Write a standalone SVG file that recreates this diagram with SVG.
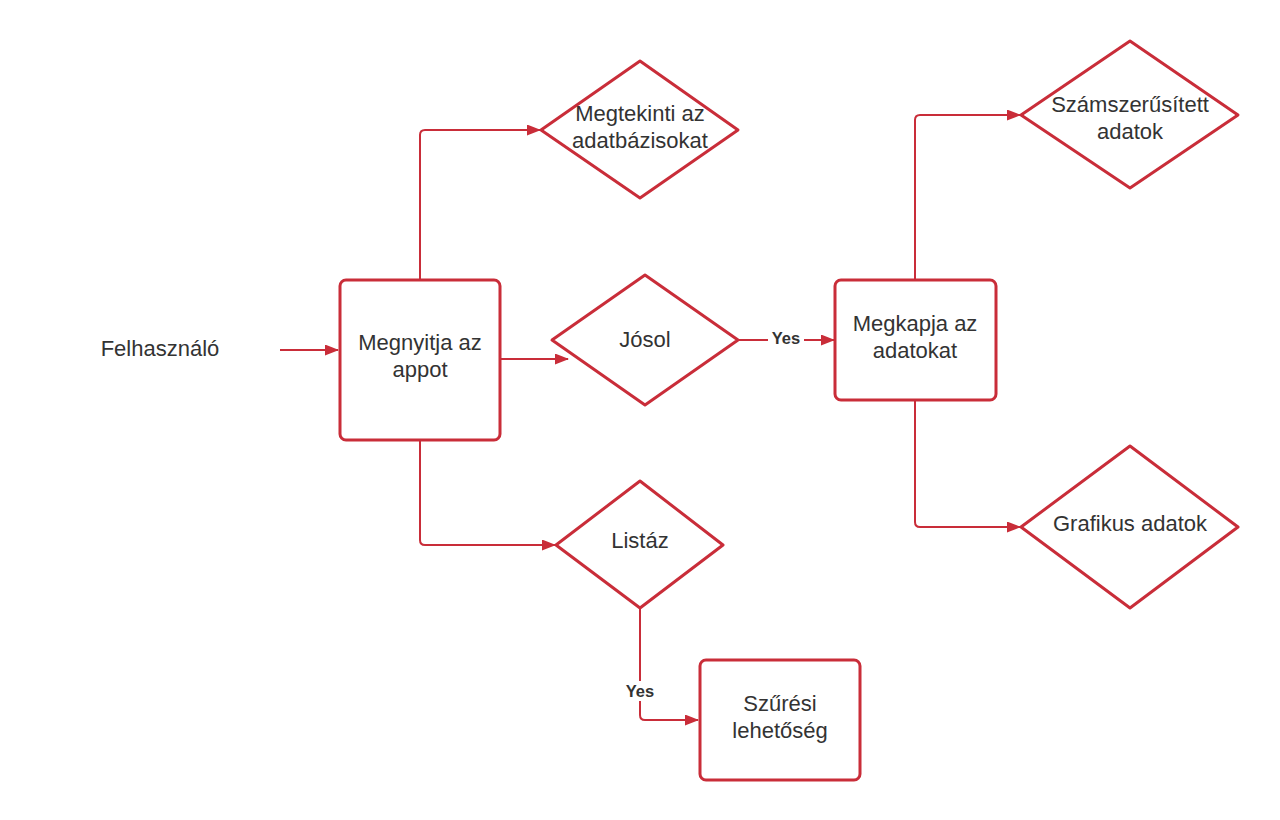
<svg xmlns="http://www.w3.org/2000/svg" width="1280" height="820" viewBox="0 0 1280 820">
  <defs>
    <marker id="arrow" viewBox="0 0 14 11" refX="13" refY="5.5" markerWidth="14" markerHeight="11" markerUnits="userSpaceOnUse" orient="auto">
      <path d="M0,0 L14,5.5 L0,11 Z" fill="#c92d39"/>
    </marker>
    <style>
      .shape { fill: #ffffff; stroke: #c92d39; stroke-width: 3; stroke-linejoin: round; }
      .edge { fill: none; stroke: #c92d39; stroke-width: 2; marker-end: url(#arrow); }
      .label { font-family: "Liberation Sans", Arial, sans-serif; font-size: 22px; fill: #333333; text-anchor: middle; }
      .edge-label { font-family: "Liberation Sans", Arial, sans-serif; font-size: 16.5px; font-weight: bold; fill: #333333; text-anchor: middle; }
    </style>
  </defs>
  <rect width="1280" height="820" fill="#ffffff"/>

  <g id="connectors">
    <path class="edge" d="M280,350 H338"/>
    <path class="edge" d="M420,280 V135 Q420,130 425,130 H540"/>
    <path class="edge" d="M501,359 H568"/>
    <path class="edge" d="M738,340 H834"/>
    <path class="edge" d="M420,440 V540 Q420,545 425,545 H555"/>
    <path class="edge" d="M915,280 V120 Q915,115 920,115 H1020"/>
    <path class="edge" d="M915,400 V522 Q915,527 920,527 H1020"/>
    <path class="edge" d="M640,608 V715 Q640,720 645,720 H698"/>
    <rect x="768" y="328" width="36" height="20" fill="#ffffff"/>
    <text class="edge-label" x="786" y="344">Yes</text>
    <rect x="621" y="681" width="38" height="20" fill="#ffffff"/>
    <text class="edge-label" x="640" y="697">Yes</text>
  </g>

  <g id="user">
    <text class="label" x="160" y="356">Felhasználó</text>
  </g>

  <g id="open-app">
    <rect class="shape" x="340" y="280" width="160" height="160" rx="6"/>
    <text class="label" x="420" y="350">Megnyitja az</text>
    <text class="label" x="420" y="377">appot</text>
  </g>

  <g id="view-databases">
    <path class="shape" d="M640,61 L738,130 L640,198 L541,130 Z"/>
    <text class="label" x="640" y="121">Megtekinti az</text>
    <text class="label" x="640" y="148">adatbázisokat</text>
  </g>

  <g id="predict">
    <path class="shape" d="M645,275 L738,340 L645,405 L552,340 Z"/>
    <text class="label" x="645" y="347">Jósol</text>
  </g>

  <g id="list">
    <path class="shape" d="M640,481 L723,545 L640,608 L556,545 Z"/>
    <text class="label" x="640" y="548">Listáz</text>
  </g>

  <g id="receive-data">
    <rect class="shape" x="835" y="280" width="161" height="120" rx="6"/>
    <text class="label" x="915" y="331">Megkapja az</text>
    <text class="label" x="915" y="358">adatokat</text>
  </g>

  <g id="numeric-data">
    <path class="shape" d="M1130,41 L1238,115 L1130,188 L1021,115 Z"/>
    <text class="label" x="1130" y="112">Számszerűsített</text>
    <text class="label" x="1130" y="139">adatok</text>
  </g>

  <g id="graphic-data">
    <path class="shape" d="M1130,446 L1238,527 L1130,608 L1021,527 Z"/>
    <text class="label" x="1130" y="531">Grafikus adatok</text>
  </g>

  <g id="filter-option">
    <rect class="shape" x="700" y="660" width="160" height="120" rx="6"/>
    <text class="label" x="780" y="711">Szűrési</text>
    <text class="label" x="780" y="738">lehetőség</text>
  </g>
</svg>
